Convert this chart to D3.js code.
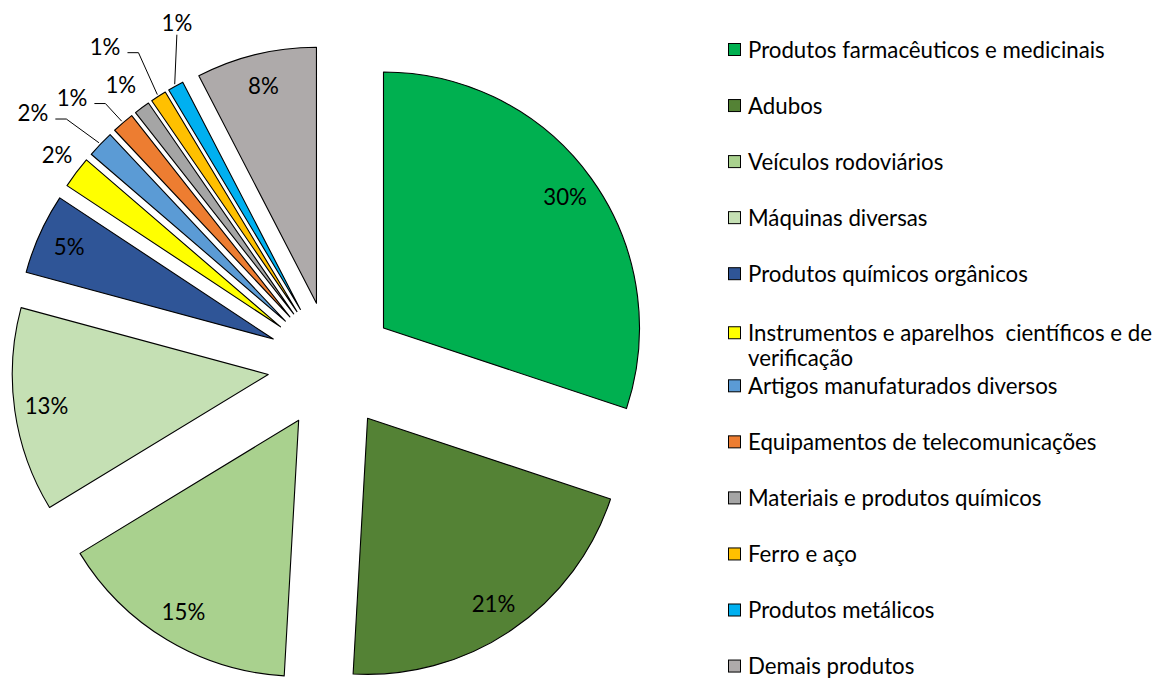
<!DOCTYPE html>
<html>
<head>
<meta charset="utf-8">
<script src="https://cdn.jsdelivr.net/npm/d3@7/dist/d3.min.js"></script>
<style>
  body { margin: 0; background: #fff; }
  #chart text { font-family: Lato, "Open Sans", sans-serif; fill: #000; }
</style>
</head>
<body>
<div id="chart"></div>
<script>
// data
////////////////////////
var categories = [
  "Produtos farmacêuticos e medicinais",
  "Adubos",
  "Veículos rodoviários",
  "Máquinas diversas",
  "Produtos químicos orgânicos",
  "Instrumentos e aparelhos  científicos e de verificação",
  "Artigos manufaturados diversos",
  "Equipamentos de telecomunicações",
  "Materiais e produtos químicos",
  "Ferro e aço",
  "Produtos metálicos",
  "Demais produtos"
];

// share of each category (%)
var shares = [30.1, 20.8, 15.4, 12.9, 5.1, 2.0, 1.7, 1.4, 1.0, 1.0, 1.0, 7.6];

// data labels as printed on the chart
var shareLabels = ["30%", "21%", "15%", "13%", "5%", "2%", "2%", "1%", "1%", "1%", "1%", "8%"];

var colors = ["#00b050", "#548235", "#a9d18e", "#c5e0b4", "#2f5597", "#ffff00",
              "#5b9bd5", "#ed7d31", "#a5a5a5", "#ffc000", "#00b0f0", "#aeaaaa"];

// layout
////////////////////////
var svgWidth = 1155;
var svgHeight = 679;

var cx = 331.6, cy = 365.4;   // pie centre
var radius = 256;
var explode = 64;             // every slice pulled out by 25% of radius

// hand placed labels for the thin slices: [angle deg, distance from pie centre]
var outsideLabels = {
  5: [307.5, 346],
  6: [310.2, 391],
  7: [315.9, 373],
  8: [323.1, 351],
  9: [324.6, 391],
  10: [335.7, 376]
};
// leader line kind for those labels
var leaderKind = {6: "elbow", 7: "elbow", 9: "elbow", 10: "straight"};

var svg = d3.select("#chart").append("svg")
  .attr("width", svgWidth)
  .attr("height", svgHeight);

// legend first, so the font size can be fitted to the reference width
var legendX = 728.5;
var legendTop = 49.5;
var legendStep = 56.05;
var keySize = 12;

var legend = svg.append("g").attr("class", "legend");

var legendText = legend.selectAll("text")
  .data(categories)
  .enter()
  .append("text")
  .attr("x", legendX + 19.5)
  .style("font-size", "20px")
  .style("white-space", "pre");

// measure the first entry and scale the font so it is ~357px wide
var probe = legendText.filter(function(d, i) { return i === 0; }).text(categories[0]);
var fontSize = 20 * 357 / probe.node().getComputedTextLength();
legendText.style("font-size", fontSize + "px");

function rowY(i) {
  var y = legendTop + i * legendStep;
  if (i === 5) y += 3;
  return y;
}

legendText.each(function(d, i) {
  var t = d3.select(this);
  t.attr("y", rowY(i) + fontSize * 0.36);
  if (i === 5) {
    t.append("tspan").attr("x", legendX + 19.5).text("Instrumentos e aparelhos  científicos e de");
    t.append("tspan").attr("x", legendX + 19.5).attr("dy", 25).text("verificação");
  } else {
    t.text(d);
  }
});

legend.selectAll("rect")
  .data(categories)
  .enter()
  .append("rect")
  .attr("x", legendX)
  .attr("y", function(d, i) { return rowY(i) - keySize / 2; })
  .attr("width", keySize)
  .attr("height", keySize)
  .attr("fill", function(d, i) { return colors[i]; })
  .attr("stroke", "#000")
  .attr("stroke-width", 1);

// pie
////////////////////////
var pie = d3.pie().sort(null).value(function(d) { return d; });
var arcs = pie(shares);

var arc = d3.arc().innerRadius(0).outerRadius(radius);

function mid(d) { return (d.startAngle + d.endAngle) / 2; }
function offset(d) {
  var a = mid(d);
  return [cx + explode * Math.sin(a), cy - explode * Math.cos(a)];
}

var pieGroup = svg.append("g");

pieGroup.selectAll("path")
  .data(arcs)
  .enter()
  .append("path")
  .attr("transform", function(d) { var o = offset(d); return "translate(" + o[0] + "," + o[1] + ")"; })
  .attr("d", arc)
  .attr("fill", function(d, i) { return colors[i]; })
  .attr("stroke", "#000")
  .attr("stroke-width", 1.1)
  .attr("stroke-linejoin", "round");

// data labels
var labelPos = arcs.map(function(d, i) {
  if (outsideLabels[i]) {
    var a = outsideLabels[i][0] * Math.PI / 180, r = outsideLabels[i][1];
    return [cx + r * Math.sin(a), cy - r * Math.cos(a)];
  }
  var o = offset(d), m = mid(d), r2 = radius * 0.875;
  return [o[0] + r2 * Math.sin(m), o[1] - r2 * Math.cos(m)];
});

var labelText = pieGroup.selectAll("text")
  .data(arcs)
  .enter()
  .append("text")
  .attr("x", function(d, i) { return labelPos[i][0]; })
  .attr("y", function(d, i) { return labelPos[i][1]; })
  .attr("dy", "0.36em")
  .attr("text-anchor", "middle")
  .style("font-size", fontSize + "px")
  .text(function(d, i) { return shareLabels[i]; });

// leader lines
labelText.each(function(d, i) {
  var kind = leaderKind[i];
  if (!kind) return;
  var w = this.getComputedTextLength();
  var o = offset(d), m = mid(d);
  var end = [o[0] + (radius + 2) * Math.sin(m), o[1] - (radius + 2) * Math.cos(m)];
  var p = labelPos[i];
  var pts;
  if (kind === "elbow") {
    var sx = p[0] + w / 2 + 7, sy = p[1] + 6;
    pts = [[sx, sy], [sx + 11, sy], end];
  } else {
    pts = [[p[0], p[1] + 12], end];
  }
  pieGroup.append("path")
    .attr("d", d3.line()(pts))
    .attr("fill", "none")
    .attr("stroke", "#000")
    .attr("stroke-width", 1);
});
</script>
</body>
</html>
